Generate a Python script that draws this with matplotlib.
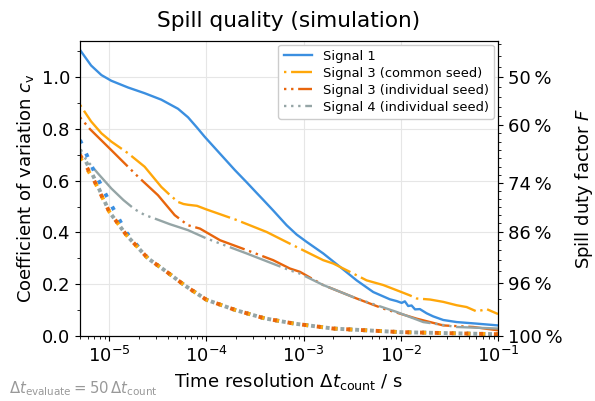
import numpy as np
import matplotlib
matplotlib.use("Agg")
import matplotlib.pyplot as plt
from matplotlib.ticker import FixedLocator, MultipleLocator

# values
t_sig1 = [5e-6, 6.5e-6, 8.3e-6, 1.05e-5, 1.56e-5, 2.31e-5, 3.43e-5, 5.09e-5, 6.46e-5,
          8e-5, 9.57e-5, 1.42e-4, 1.96e-4, 2.59e-4, 3.28e-4, 3.84e-4, 4.86e-4, 6.68e-4,
          8.47e-4, 1.07e-3, 1.59e-3, 2.37e-3, 3.51e-3, 5.2e-3, 7.7e-3, 9.06e-3, 1.02e-2,
          1.1e-2, 1.19e-2, 1.29e-2, 1.4e-2, 1.57e-2, 1.84e-2, 2.15e-2, 2.73e-2, 3.75e-2,
          6.0e-2, 1e-1]
cv_sig1 = [1.105, 1.045, 1.008, 0.986, 0.960, 0.938, 0.913, 0.878, 0.845,
           0.805, 0.770, 0.699, 0.641, 0.594, 0.553, 0.526, 0.485, 0.428,
           0.392, 0.364, 0.319, 0.267, 0.215, 0.170, 0.142, 0.135, 0.128,
           0.134, 0.116, 0.118, 0.103, 0.104, 0.088, 0.076, 0.062, 0.054,
           0.048, 0.041]

t_sig3c = [5e-6, 6.5e-6, 8.3e-6, 1.05e-5, 1.56e-5, 2.31e-5, 3.43e-5, 4.2e-5, 5.09e-5,
           5.8e-5, 6.46e-5, 7.98e-5, 1.0e-4, 2.05e-4, 4.16e-4, 7.2e-4, 1.07e-3, 1.59e-3,
           2.02e-3, 2.99e-3, 4.45e-3, 6.59e-3, 9.06e-3, 1.24e-2, 1.46e-2, 2.0e-2,
           2.73e-2, 3.75e-2, 4.75e-2, 6.03e-2, 7.64e-2, 1e-1]
cv_sig3c = [0.893, 0.829, 0.783, 0.751, 0.706, 0.654, 0.576, 0.545, 0.518,
            0.510, 0.507, 0.503, 0.489, 0.448, 0.402, 0.357, 0.325, 0.293,
            0.280, 0.248, 0.215, 0.197, 0.177, 0.157, 0.145, 0.141,
            0.132, 0.119, 0.112, 0.095, 0.104, 0.085]

t_sig3i = [5e-6, 6.3e-6, 1.05e-5, 1.97e-5, 3.17e-5, 4.71e-5, 6.46e-5, 8.57e-5, 1.38e-4,
           2.59e-4, 4.86e-4, 7.2e-4, 9.16e-4, 1.59e-3, 3.51e-3, 6.59e-3, 1.46e-2,
           2.73e-2, 5.56e-2, 1e-1]
cv_sig3i = [0.845, 0.800, 0.718, 0.616, 0.544, 0.467, 0.428, 0.415, 0.370,
            0.332, 0.293, 0.261, 0.248, 0.197, 0.145, 0.106, 0.067,
            0.041, 0.035, 0.022]

t_sig4 = [5e-6, 7.65e-6, 1.05e-5, 1.4e-5, 1.82e-5, 2.3e-5, 2.93e-5, 4.2e-5, 6.46e-5,
          1.0e-4, 2.59e-4, 7.2e-4, 9.16e-4, 1.59e-3, 3.51e-3, 9.06e-3, 1.7e-2, 3.75e-2,
          1e-1]
cv_sig4 = [0.710, 0.628, 0.570, 0.525, 0.490, 0.468, 0.454, 0.432, 0.409,
           0.377, 0.319, 0.254, 0.241, 0.197, 0.145, 0.093, 0.054, 0.035,
           0.029]

# lower dotted reference curves (one per signal, nearly identical)
t_ref = [5e-6, 7e-6, 1e-5, 1.5e-5, 2.5e-5, 4e-5, 6e-5, 1e-4, 2e-4, 4e-4, 8e-4,
         2e-3, 1e-2, 1e-1]
cv_ref_sig1 = [0.757, 0.635, 0.52, 0.40, 0.30, 0.245, 0.195, 0.14, 0.10, 0.068, 0.048,
               0.029, 0.015, 0.007]
cv_ref_sig3c = [0.69, 0.60, 0.48, 0.39, 0.30, 0.245, 0.195, 0.14, 0.10, 0.068, 0.048,
                0.029, 0.015, 0.007]
cv_ref_sig3i = [0.70, 0.60, 0.48, 0.39, 0.30, 0.245, 0.195, 0.14, 0.10, 0.068, 0.048,
                0.029, 0.015, 0.007]
cv_ref_sig4 = [0.72, 0.61, 0.48, 0.39, 0.30, 0.245, 0.195, 0.14, 0.10, 0.068, 0.048,
               0.029, 0.015, 0.007]

duty_ticks = [0.50, 0.60, 0.74, 0.86, 0.96, 1.00]
duty_minor = [0.40, 0.42, 0.44, 0.46, 0.48, 0.52, 0.54, 0.56, 0.58, 0.62, 0.64, 0.66,
              0.68, 0.70, 0.72, 0.76, 0.78, 0.80, 0.82, 0.84, 0.88, 0.90, 0.92, 0.94, 0.98]

series = [
    ("Signal 1", t_sig1, cv_sig1, cv_ref_sig1, "#3b8fe0", "-", 0),
    ("Signal 3 (common seed)", t_sig3c, cv_sig3c, cv_ref_sig3c, "#ffa70a", (0, (1, 2, 23, 2)), 0),
    ("Signal 3 (individual seed)", t_sig3i, cv_sig3i, cv_ref_sig3i, "#e8650c", (0, (1, 2, 1, 2, 23, 2)), 0),
    ("Signal 4 (individual seed)", t_sig4, cv_sig4, cv_ref_sig4, "#95a5a6", (0, (1, 2, 1, 2, 1, 2, 23, 2)), 0.3),
]

plt.rcParams["font.size"] = 13

fig = plt.figure(figsize=(5.95, 4.01), dpi=100)
ax = fig.add_axes([0.1345, 0.162, 0.7025, 0.736])

for label, t, cv, cv_ref, color, ls, off in series:
    ax.plot(t, cv, color=color, lw=1.7, ls=ls, label=label)
for label, t, cv, cv_ref, color, ls, off in series:
    ax.plot(t_ref, cv_ref, color=color, lw=2.8, ls=(off, (1, 2.8)))

ax.set_xscale("log")
ax.set_xlim(5e-6, 1e-1)
ax.set_ylim(0, 1.14)
ax.yaxis.set_major_locator(MultipleLocator(0.2))
ax.yaxis.set_minor_locator(MultipleLocator(0.1))
ax.grid(True, which="major", color="#e6e6e6", lw=0.8)
ax.set_axisbelow(True)
ax.set_title("Spill quality (simulation)", pad=10)
ax.set_xlabel(r"Time resolution $\Delta t_\mathrm{count}$ / s")
ax.set_ylabel(r"Coefficient of variation $c_\mathrm{v}$")
ax.legend(loc="upper right", fontsize=9.4, framealpha=1, edgecolor="#cccccc",
          borderaxespad=0.3, handlelength=2.2, labelspacing=0.3)

ax2 = ax.twinx()
ax2.set_ylim(ax.get_ylim())
ax2.yaxis.set_major_locator(FixedLocator([np.sqrt(1 / f - 1) for f in duty_ticks]))
ax2.yaxis.set_minor_locator(FixedLocator([np.sqrt(1 / f - 1) for f in duty_minor]))
ax2.set_yticklabels([f"{round(f * 100)}\u2009%" for f in duty_ticks])
ax2.set_ylabel(r"Spill duty factor $F$", labelpad=8)

fig.text(0.015, 0.02, r"$\Delta t_\mathrm{evaluate} = 50\,\Delta t_\mathrm{count}$",
         fontsize=10.7, color="#999999")

fig.savefig("out.png", dpi=100, facecolor="white")
